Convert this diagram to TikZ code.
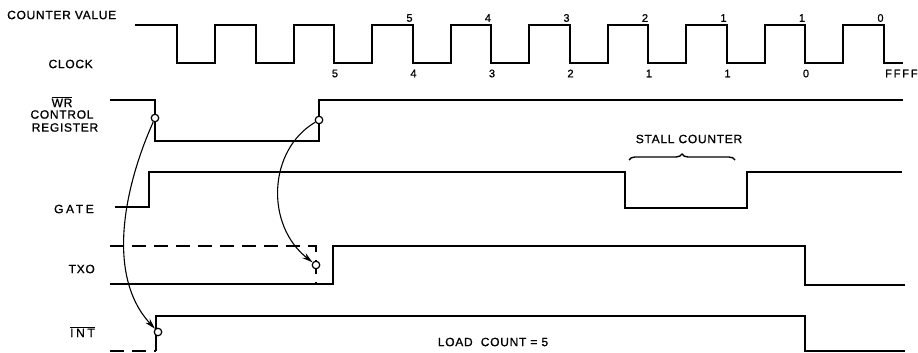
\documentclass[tikz,border=0pt]{standalone}
\usepackage{fontspec}
\setmainfont[FakeBold=0.8]{Liberation Sans}
\newfontfamily\lblfont[LetterSpace=6,FakeBold=1]{Liberation Sans}
\newfontfamily\widefont[LetterSpace=22,FakeBold=1]{Liberation Sans}
\usetikzlibrary{arrows.meta,decorations.pathreplacing}
\begin{document}
\begin{tikzpicture}[x=1pt,y=-1pt,
    sig/.style={line width=2pt,line join=miter},
    ghost/.style={sig,dash pattern=on 14pt off 8pt},
    lbl/.style={font=\lblfont\fontsize{12}{13}\selectfont,inner sep=0pt},
    wide/.style={font=\widefont\fontsize{12}{13}\selectfont,inner sep=0pt},
    num/.style={font=\fontsize{11}{12}\selectfont,inner sep=0pt},
    ring/.style={circle,draw,fill=white,line width=1.2pt,minimum size=7.5pt,inner sep=0pt},
    link/.style={line width=1.1pt,-{Stealth[length=11pt,width=6pt]}}]
    \useasboundingbox (0,0) rectangle (918,353);

    % signal names
    \node[lbl,anchor=west] (cv) at (7,15) {COUNTER VALUE};
    \node[lbl,anchor=east] (clk) at (93,64) {CLOCK};
    \node[lbl,anchor=base] (wr) at (62,107) {$\overline{\mbox{WR}}$};
    \node[lbl] (ctl) at (62,114.5) {CONTROL};
    \node[lbl] (reg) at (65,127.5) {REGISTER};
    \node[wide,anchor=east] (gate) at (94,209) {GATE};
    \node[lbl,anchor=east] (txo) at (95,269) {TXO};
    \node[wide,anchor=base east] (int) at (95,337) {$\overline{\mbox{INT}}$};

    % clock
    \draw[sig] (135,25) \foreach \k in {0,...,8}
        { -- (177+78.5*\k,25) -- (177+78.5*\k,63) -- (215+78.5*\k,63) -- (215+78.5*\k,25) }
        -- (883.5,25) -- (883.5,63) -- (903,63);
    \foreach \k/\v in {3/5,4/4,5/3,6/2,7/1,8/1,9/0}
        {\node[num] at (174+78.5*\k,18) {\v};}
    \foreach \k/\v in {2/5,3/4,4/3,5/2,6/1,7/1,8/0}
        {\node[num] at (178+78.5*\k,73.5) {\v};}
    \node[num,anchor=west] (ffff) at (885,73.5) {F\,F\,F\,F};

    % WR, gate, TXO, INT
    \draw[sig] (110,100) -- (155,100) -- (155,141) -- (319,141) -- (319,100) -- (903,100);
    \draw[sig] (115,207) -- (149,207) -- (149,172) -- (625,172) -- (625,208)
        -- (747,208) -- (747,172) -- (902,172);
    \draw[ghost] (110,246) -- (316,246) -- (316,284);
    \draw[sig] (110,284) -- (333,284) -- (333,246) -- (805,246) -- (805,285) -- (905,285);
    \draw[ghost] (110,351) -- (156,351);
    \draw[sig] (156,351) -- (156,316) -- (805,316) -- (805,351) -- (905,351);

    % stall counter
    \node[lbl] (stall) at (689,139) {STALL COUNTER};
    \draw[line width=1.4pt,decorate,decoration={brace,amplitude=6pt}]
        (629,160) -- (735,160);
    \node[lbl] (load) at (493,342) {LOAD\ \ COUNT = 5};

    % cause and effect
    \node[ring] (w1) at (155,118) {};
    \node[ring] (w2) at (319,120) {};
    \node[ring] (t1) at (316,265) {};
    \node[ring] (i1) at (158,332) {};
    \draw[link] (w1) .. controls +(-30,67) and +(-53,-57) .. (i1);
    \draw[link] (w2) .. controls +(-51,30) and +(-51,-40) .. (t1);
\end{tikzpicture}
\end{document}
